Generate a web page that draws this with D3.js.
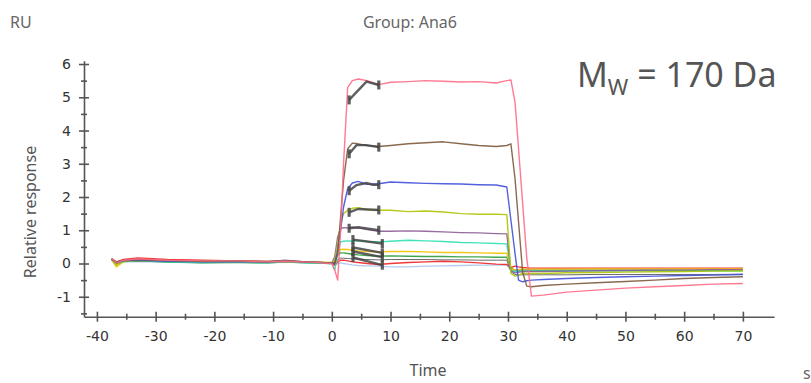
<!DOCTYPE html>
<html>
<head>
<meta charset="utf-8">
<title>Group: Ana6</title>
<script src="https://d3js.org/d3.v7.min.js"></script>
<style>
  body { margin: 0; background: #fff; }
</style>
</head>
<body>
<svg width="811" height="383" id="mainsvg"></svg>
<script>
// time points (s), shared by all sensorgrams
const times = [-37.5, -36.7, -35.5, -33, -28, -22, -16, -11, -8, -4, 0,
  0.5, 1, 1.5, 2, 2.7, 3.5, 4.5, 6, 8, 10, 13, 16, 19, 22, 25, 28, 29.8,
  30.5, 31.2, 31.8, 32.5, 33.2, 34, 36, 40, 45, 50, 55, 60, 65, 70];

// relative response (RU) per concentration
const pink = [0.15, 0.02, 0.1, 0.14, 0.1, 0.08, 0.08, 0.05, 0.07, 0.04, 0.0,
  -0.2, -0.5, 1.0, 3.0, 5.3, 5.5, 5.55, 5.5, 5.38, 5.45, 5.47, 5.5, 5.48, 5.46, 5.47, 5.43, 5.5,
  5.52, 4.85, 3.45, 1.8, 0.17, -0.98, -0.95, -0.86, -0.8, -0.74, -0.7, -0.66, -0.62, -0.6];
const brown = [0.14, 0.05, 0.1, 0.12, 0.09, 0.07, 0.08, 0.06, 0.08, 0.05, 0.02,
  0.0, 0.3, 1.4, 2.5, 3.45, 3.62, 3.6, 3.55, 3.52, 3.55, 3.6, 3.63, 3.66, 3.6, 3.55, 3.52, 3.55,
  3.6, 2.55, 1.25, -0.27, -0.68, -0.7, -0.66, -0.62, -0.58, -0.54, -0.5, -0.45, -0.42, -0.4];
const blue = [0.13, 0.03, 0.08, 0.1, 0.07, 0.05, 0.06, 0.04, 0.07, 0.04, 0.02,
  0.0, 0.4, 1.0, 1.7, 2.25, 2.42, 2.47, 2.38, 2.4, 2.45, 2.43, 2.41, 2.4, 2.39, 2.37, 2.36, 2.3,
  1.3, 0.3, -0.5, -0.55, -0.52, -0.5, -0.48, -0.45, -0.42, -0.4, -0.38, -0.36, -0.35, -0.33];
const yellowGreen = [0.12, -0.05, 0.07, 0.1, 0.08, 0.06, 0.07, 0.04, 0.06, 0.04, 0.03,
  0.1, 0.6, 1.2, 1.5, 1.6, 1.66, 1.68, 1.62, 1.6, 1.6, 1.56, 1.58, 1.55, 1.5, 1.48, 1.48, 1.47,
  -0.3, -0.38, -0.35, -0.3, -0.3, -0.3, -0.3, -0.28, -0.27, -0.26, -0.25, -0.24, -0.23, -0.22];
const purple = [0.13, 0.0, 0.08, 0.12, 0.08, 0.06, 0.06, 0.05, 0.1, 0.04, 0.02,
  0.2, 0.8, 1.05, 1.08, 1.07, 1.09, 1.07, 1.02, 0.97, 0.97, 0.98, 0.97, 0.95, 0.93, 0.92, 0.9, 0.89,
  -0.22, -0.28, -0.26, -0.25, -0.24, -0.24, -0.24, -0.23, -0.22, -0.21, -0.2, -0.2, -0.19, -0.19];
const teal = [0.12, -0.02, 0.06, 0.1, 0.05, 0.03, 0.04, 0.02, 0.05, 0.02, 0.0,
  -0.2, 0.3, 0.65, 0.67, 0.68, 0.67, 0.68, 0.66, 0.65, 0.67, 0.7, 0.68, 0.66, 0.63, 0.62, 0.6, 0.59,
  -0.2, -0.25, -0.24, -0.23, -0.22, -0.23, -0.23, -0.23, -0.22, -0.22, -0.22, -0.22, -0.22, -0.23];
const yellow = [0.12, -0.1, 0.05, 0.1, 0.08, 0.07, 0.08, 0.05, 0.06, 0.04, 0.02,
  0.05, 0.3, 0.42, 0.43, 0.42, 0.4, 0.38, 0.36, 0.35, 0.36, 0.36, 0.35, 0.33, 0.33, 0.32, 0.31, 0.31,
  -0.15, -0.2, -0.18, -0.17, -0.17, -0.17, -0.17, -0.17, -0.16, -0.16, -0.16, -0.16, -0.16, -0.16];
const green = [0.11, 0.0, 0.06, 0.08, 0.04, 0.02, 0.03, 0.02, 0.04, 0.02, 0.0,
  0.05, 0.25, 0.32, 0.32, 0.3, 0.28, 0.26, 0.24, 0.22, 0.23, 0.22, 0.21, 0.21, 0.2, 0.2, 0.19, 0.19,
  -0.15, -0.2, -0.2, -0.19, -0.19, -0.2, -0.2, -0.2, -0.2, -0.2, -0.2, -0.2, -0.2, -0.2];
const gray = [0.1, 0.02, 0.06, 0.08, 0.06, 0.04, 0.05, 0.03, 0.05, 0.03, 0.0,
  0.0, 0.12, 0.16, 0.16, 0.15, 0.14, 0.13, 0.12, 0.11, 0.12, 0.12, 0.12, 0.11, 0.11, 0.1, 0.1, 0.1,
  -0.25, -0.33, -0.34, -0.34, -0.34, -0.34, -0.34, -0.34, -0.33, -0.33, -0.33, -0.33, -0.33, -0.32];
const red = [0.15, 0.05, 0.12, 0.17, 0.12, 0.1, 0.08, 0.06, 0.08, 0.05, 0.02,
  -0.05, 0.05, 0.1, 0.1, 0.08, 0.05, 0.03, 0.0, -0.03, 0.0, 0.03, 0.05, 0.07, 0.05, 0.02, -0.02, -0.03,
  -0.12, -0.08, -0.1, -0.12, -0.13, -0.14, -0.14, -0.14, -0.14, -0.14, -0.14, -0.14, -0.14, -0.14];
const lightBlue = [0.1, 0.0, 0.05, 0.06, 0.04, 0.03, 0.04, 0.02, 0.04, 0.02, 0.0,
  -0.05, 0.0, 0.02, 0.0, -0.02, -0.04, -0.06, -0.07, -0.08, -0.1, -0.1, -0.08, -0.07, -0.06, -0.05, -0.05, -0.05,
  -0.2, -0.22, -0.21, -0.2, -0.2, -0.2, -0.2, -0.2, -0.2, -0.2, -0.2, -0.2, -0.2, -0.2];

const seriesNames = ['lightBlue', 'gray', 'red', 'green', 'yellow', 'teal', 'purple', 'yellowGreen', 'blue', 'brown', 'pink'];
const seriesValues = [lightBlue, gray, red, green, yellow, teal, purple, yellowGreen, blue, brown, pink];
const seriesColors = ['#a8c6f2', '#5a5a5a', '#f02222', '#2c9c3c', '#f2c200', '#30e0b2', '#8c5c96', '#adc400', '#4050da', '#7c5a3a', '#ff6a86'];

// fitted association segments (black)
const fitTimes = [[2.95, 5.9, 8.0], [2.95, 4.2, 5.9, 8.0], [2.95, 4.2, 5.9, 7.0, 8.0], [2.95, 4.5, 8.0], [2.95, 4.5, 8.0],
  [3.6, 8.6], [3.6, 8.6], [3.6, 8.6], [3.6, 8.6]];
const fitValues = [[4.92, 5.47, 5.37], [3.3, 3.56, 3.56, 3.5], [2.19, 2.36, 2.42, 2.37, 2.37], [1.54, 1.64, 1.61], [1.06, 1.09, 1.0],
  [0.72, 0.6], [0.48, 0.32], [0.36, 0.19], [0.18, -0.05]];

const xTicks = [-40, -30, -20, -10, 0, 10, 20, 30, 40, 50, 60, 70];
const yTicks = [-1, 0, 1, 2, 3, 4, 5, 6];

const svg = d3.select('#mainsvg');
const tickFont = 'DejaVu Sans, Verdana, sans-serif';
const labelFont = 'Noto Sans, Open Sans, sans-serif';

const xScale = d3.scaleLinear().domain([-42.2, 75.3]).range([84, 774]);
const yScale = d3.scaleLinear().domain([-1.6, 6.1]).range([316.7, 60.7]);

// axes (plain hyphen for negatives, like the original software)
const fmt = d => String(d);
const axisColor = '#555';
const xAxisG = svg.append('g').attr('transform', `translate(0, ${yScale(-1.6)})`);
xAxisG.call(d3.axisBottom(xScale).tickValues(xTicks).tickSize(5).tickSizeOuter(0).tickPadding(9).tickFormat(fmt));
const xMinor = svg.append('g').attr('transform', `translate(0, ${yScale(-1.6)})`);
xMinor.call(d3.axisBottom(xScale).tickValues(d3.range(-35, 75, 10)).tickSize(3).tickSizeOuter(0).tickFormat(''));
xMinor.select('.domain').remove();

const yAxisG = svg.append('g').attr('transform', `translate(${xScale(-42.2)}, 0)`);
yAxisG.call(d3.axisLeft(yScale).tickValues(yTicks).tickSize(5).tickSizeOuter(0).tickPadding(8).tickFormat(fmt));
const yMinor = svg.append('g').attr('transform', `translate(${xScale(-42.2)}, 0)`);
yMinor.call(d3.axisLeft(yScale).tickValues(d3.range(-1.5, 6, 1)).tickSize(3).tickSizeOuter(0).tickFormat(''));
yMinor.select('.domain').remove();

// ticks cross the axis line
xAxisG.selectAll('.tick line').attr('y1', -5);
xMinor.selectAll('.tick line').attr('y1', -3);
yAxisG.selectAll('.tick line').attr('x1', 5);
yMinor.selectAll('.tick line').attr('x1', 3);

[xAxisG, xMinor, yAxisG, yMinor].forEach(a => {
  a.selectAll('path, line').attr('stroke', axisColor).attr('stroke-width', 1.6);
  a.selectAll('text').attr('font-family', tickFont).attr('font-size', 14).attr('fill', '#333');
});

// sensorgrams
const line = d3.line()
  .x((d, i) => xScale(times[i]))
  .y(d => yScale(d));

const curves = svg.append('g');
seriesValues.forEach((vals, k) => {
  curves.append('path')
    .datum(vals)
    .attr('d', line)
    .attr('fill', 'none')
    .attr('stroke', seriesColors[k])
    .attr('stroke-width', seriesNames[k] === 'gray' ? 1 : 1.4)
    .attr('stroke-linejoin', 'round')
    .attr('opacity', 0.9);
});

// fits with end markers
const fits = svg.append('g');
fitValues.forEach((vals, k) => {
  const pts = vals.map((v, i) => [xScale(fitTimes[k][i]), yScale(v)]);
  fits.append('path')
    .attr('d', d3.line()(pts))
    .attr('fill', 'none')
    .attr('stroke', '#444')
    .attr('stroke-width', 2.4)
    .attr('opacity', 0.85);
  [pts[0], pts[pts.length - 1]].forEach(p => {
    fits.append('line')
      .attr('x1', p[0]).attr('x2', p[0])
      .attr('y1', p[1] - 4.5).attr('y2', p[1] + 4.5)
      .attr('stroke', '#444')
      .attr('stroke-width', 3.2)
      .attr('opacity', 0.85);
  });
});

// labels
svg.append('text').text('RU')
  .attr('x', 10).attr('y', 28)
  .attr('font-family', labelFont).attr('font-size', 16).attr('fill', '#666');
svg.append('text').text('Group: Ana6')
  .attr('x', 410).attr('y', 28).attr('text-anchor', 'middle')
  .attr('font-family', labelFont).attr('font-size', 16).attr('fill', '#666');
svg.append('text').text('Relative response')
  .attr('transform', 'translate(36, 212) rotate(-90)')
  .attr('text-anchor', 'middle')
  .attr('font-family', labelFont).attr('font-size', 16).attr('fill', '#555');
svg.append('text').text('Time')
  .attr('x', 428).attr('y', 376).attr('text-anchor', 'middle')
  .attr('font-family', labelFont).attr('font-size', 16).attr('fill', '#555');
svg.append('text').text('s')
  .attr('x', 803).attr('y', 379)
  .attr('font-family', labelFont).attr('font-size', 16).attr('fill', '#666');

const mw = svg.append('text')
  .attr('x', 577).attr('y', 87)
  .attr('font-family', labelFont).attr('font-size', 34).attr('fill', '#555');
mw.append('tspan').text('M');
mw.append('tspan').text('W').attr('font-size', 22).attr('dy', 8);
mw.append('tspan').text(' = 170 Da').attr('dy', -8);
</script>
</body>
</html>
